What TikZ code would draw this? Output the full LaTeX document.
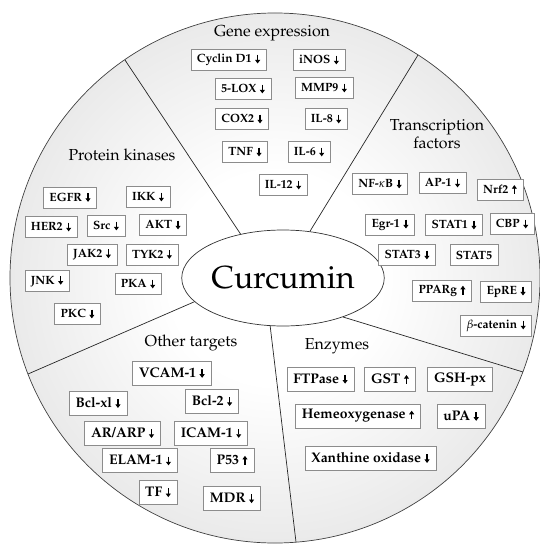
\documentclass[tikz,border=0pt]{standalone}
\usepackage[T1]{fontenc}
\usepackage{amsmath}
\usepackage{amssymb}
\usepackage{mathpazo}
\usepackage{tikz}
\usetikzlibrary{shapes,positioning,arrows.meta}

\pgfdeclareradialshading{disc}{\pgfpoint{0bp}{0bp}}{color(0bp)=(white); color(10bp)=(white); color(50bp)=(black!22)}

% short heavy arrows used after the target names
\newcommand{\arrdown}{\hspace{3.5pt}\tikz[baseline=0pt]\draw[line width=1.4pt,-{Triangle[width=5pt,length=3.6pt]}] (0,8.2pt) -- (0,-0.6pt);}
\newcommand{\arrup}{\hspace{3.5pt}\tikz[baseline=0pt]\draw[line width=1.4pt,-{Triangle[width=5pt,length=3.6pt]}] (0,-0.6pt) -- (0,8.2pt);}

\begin{document}
\begin{tikzpicture}[x=1bp, y=-1bp,
    target/.style={draw=black!45, fill=white, font=\bfseries\fontsize{12}{12}\selectfont, inner xsep=6bp, minimum height=21bp},
    bigtarget/.style={target, font=\bfseries\fontsize{14}{14}\selectfont, inner xsep=6.5bp, minimum height=24bp},
    group/.style={font=\fontsize{16}{18}\selectfont, align=center},
    spoke/.style={draw=black!85, line width=0.7pt}
]
    \useasboundingbox (0,0) rectangle (540,544);
    \shadedraw[shading=disc, draw=black!75, line width=0.7pt] (275,278) circle (265bp);

    \node[ellipse, draw=black!80, line width=0.7pt, fill=white, minimum width=162bp, minimum height=96bp, inner sep=0pt, font=\fontsize{32}{32}\selectfont] (cur) at (283,278) {Curcumin};

    % rim points of the five sectors
    \coordinate (rimA) at (125,60);
    \coordinate (rimB) at (418,55);
    \coordinate (rimC) at (523,372);
    \coordinate (rimD) at (296,542);
    \coordinate (rimE) at (28,374);
    \draw[spoke] (cur.134) -- (rimA);
    \draw[spoke] (cur.60) -- (rimB);
    \draw[spoke] (cur.-33) -- (rimC);
    \draw[spoke] (cur.-105) -- (rimD);
    \draw[spoke] (cur.195) -- (rimE);

    % Gene expression
    \node[group] (gene) at (272,33) {Gene expression};
    \node[target] (g1) at (228.5,60) {Cyclin D1\arrdown};
    \node[target] (g2) at (319,60) {iNOS\arrdown};
    \node[target] (g3) at (243,89) {5-LOX\arrdown};
    \node[target] (g4) at (324,88) {MMP9\arrdown};
    \node[target] (g5) at (242,119) {COX2\arrdown};
    \node[target] (g6) at (326,119) {IL-8\arrdown};
    \node[target] (g7) at (245,152) {TNF\arrdown};
    \node[target] (g8) at (309,152) {IL-6\arrdown};
    \node[target] (g9) at (283,185) {IL-12\arrdown};

    % Transcription factors
    \node[group] (tf) at (437,134) {Transcription\\factors};
    \node[target] (t1) at (380,184) {NF-$\kappa$B\arrdown};
    \node[target] (t2) at (442.5,183) {AP-1\arrdown};
    \node[target] (t3) at (500,189.5) {Nrf2\arrup};
    \node[target] (t4) at (390,225) {Egr-1\arrdown};
    \node[target] (t5) at (454,225) {STAT1\arrdown};
    \node[target] (t6) at (512,224) {CBP\arrdown};
    \node[target] (t7) at (407,255) {STAT3\arrdown};
    \node[target] (t8) at (474,255) {STAT5};
    \node[target] (t9) at (442,291) {PPARg\arrup};
    \node[target] (t10) at (506,292) {EpRE\arrdown};
    \node[target] (t11) at (496,326) {$\beta$-catenin\arrdown};

    % Protein kinases
    \node[group] (pk) at (122,155) {Protein kinases};
    \node[target] (k1) at (70,197.5) {EGFR\arrdown};
    \node[target] (k2) at (148,197) {IKK\arrdown};
    \node[target] (k3) at (51,227) {HER2\arrdown};
    \node[target] (k4) at (106,226) {Src\arrdown};
    \node[target] (k5) at (163,225) {AKT\arrdown};
    \node[target] (k6) at (92,254.5) {JAK2\arrdown};
    \node[target] (k7) at (152,254.5) {TYK2\arrdown};
    \node[target] (k8) at (47,281) {JNK\arrdown};
    \node[target] (k9) at (138,284) {PKA\arrdown};
    \node[target] (k10) at (77.5,314) {PKC\arrdown};

    % Other targets
    \node[group] (ot) at (191,343) {Other targets};
    \node[bigtarget] (o1) at (171.7,373) {VCAM-1\arrdown};
    \node[bigtarget] (o2) at (98,403) {Bcl-xl\arrdown};
    \node[bigtarget] (o3) at (212,401) {Bcl-2\arrdown};
    \node[bigtarget] (o4) at (122.5,433) {AR/ARP\arrdown};
    \node[bigtarget] (o5) at (211,433) {ICAM-1\arrdown};
    \node[bigtarget] (o6) at (140,460.5) {ELAM-1\arrdown};
    \node[bigtarget] (o7) at (232,460) {P53\arrup};
    \node[bigtarget] (o8) at (158,492.5) {TF\arrdown};
    \node[bigtarget] (o9) at (232,498.5) {MDR\arrdown};

    % Enzymes
    \node[group] (enz) at (337,346) {Enzymes};
    \node[bigtarget] (e1) at (320.5,379) {FTPase\arrdown};
    \node[bigtarget] (e2) at (390,379) {GST\arrup};
    \node[bigtarget] (e3) at (460,379) {GSH-px};
    \node[bigtarget] (e4) at (358,416) {Hemeoxygenase\arrup};
    \node[bigtarget] (e5) at (461,416) {uPA\arrdown};
    \node[bigtarget] (e6) at (370.5,458) {Xanthine oxidase\arrdown};
\end{tikzpicture}
\end{document}
